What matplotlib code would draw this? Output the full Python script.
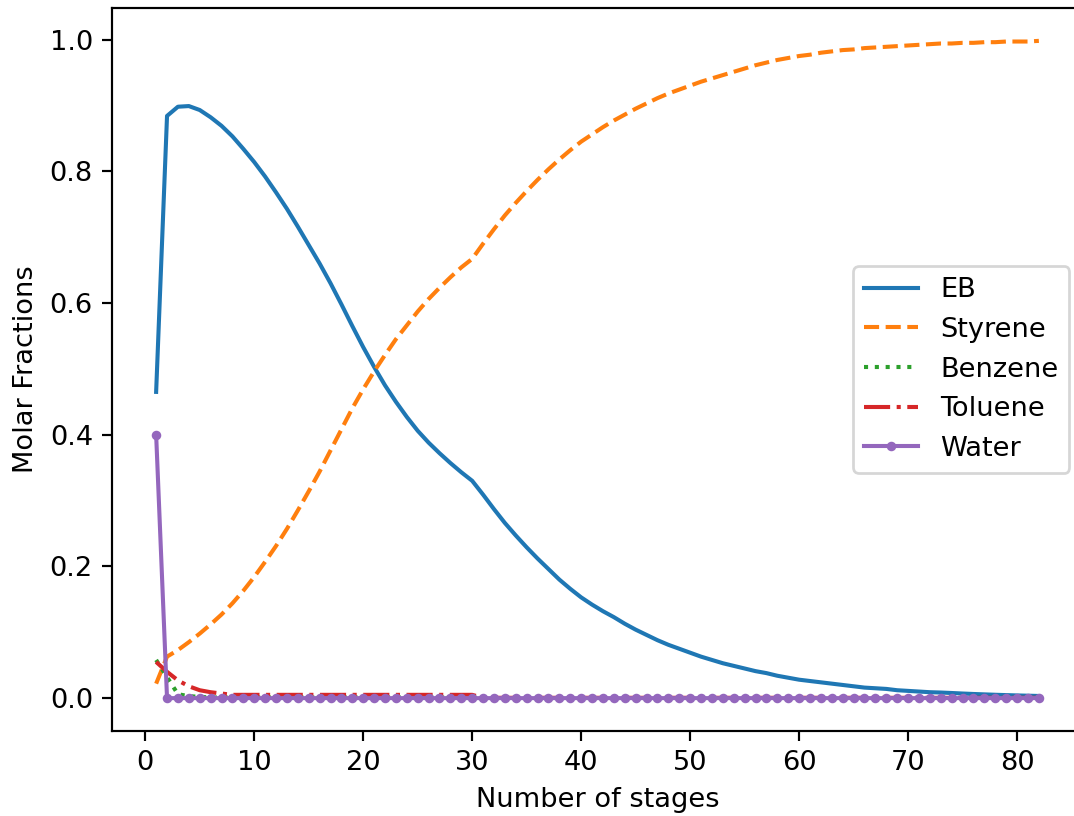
#!/usr/bin/env python3
"""Molar fraction profiles along the column stages."""
import numpy as np
import matplotlib
matplotlib.use("Agg")
import matplotlib.pyplot as plt

stages = list(range(1, 83))

eb = [0.465, 0.884, 0.898, 0.899, 0.893, 0.882, 0.869, 0.853, 0.834, 0.814,
      0.792, 0.768, 0.743, 0.716, 0.688, 0.660, 0.630, 0.598, 0.565, 0.533,
      0.503, 0.475, 0.450, 0.427, 0.406, 0.388, 0.372, 0.357, 0.343, 0.330,
      0.309, 0.287, 0.266, 0.247, 0.229, 0.212, 0.196, 0.180, 0.166, 0.153,
      0.142, 0.132, 0.123, 0.113, 0.104, 0.096, 0.088, 0.081, 0.075, 0.069,
      0.063, 0.058, 0.053, 0.049, 0.045, 0.041, 0.038, 0.034, 0.031, 0.028,
      0.026, 0.024, 0.022, 0.020, 0.018, 0.016, 0.015, 0.014, 0.012, 0.011,
      0.010, 0.009, 0.0085, 0.0078, 0.0070, 0.0063, 0.0057, 0.0051, 0.0046, 0.0041,
      0.0037, 0.0033]

styrene = [0.022, 0.063, 0.073, 0.085, 0.098, 0.112, 0.127, 0.144, 0.163, 0.184,
           0.207, 0.231, 0.257, 0.285, 0.314, 0.344, 0.376, 0.408, 0.440, 0.469,
           0.496, 0.521, 0.545, 0.566, 0.587, 0.606, 0.623, 0.639, 0.654, 0.667,
           0.690, 0.712, 0.733, 0.752, 0.770, 0.787, 0.803, 0.818, 0.832, 0.845,
           0.856, 0.867, 0.877, 0.886, 0.895, 0.903, 0.911, 0.918, 0.924, 0.930,
           0.936, 0.941, 0.946, 0.951, 0.956, 0.961, 0.965, 0.969, 0.972, 0.975,
           0.977, 0.980, 0.982, 0.984, 0.985, 0.987, 0.988, 0.989, 0.990, 0.991,
           0.992, 0.993, 0.994, 0.994, 0.995, 0.995, 0.996, 0.996, 0.997, 0.997,
           0.997, 0.998]

benzene = [0.058, 0.032, 0.006, 0.003, 0.002] + [0.001] * 25 + [0.0] * 52

toluene = [0.055, 0.040, 0.027, 0.018, 0.012, 0.009, 0.007] + [0.005] * 23 + [0.0005] * 52

water = [0.40] + [0.0] * 81

DPI = 196
fig = plt.figure(figsize=(1074 / DPI, 816 / DPI), dpi=DPI)
ax = fig.add_axes([112 / 1074, 85 / 816, 971 / 1074, 723 / 816])

ax.plot(stages, eb, label="EB")
ax.plot(stages, styrene, "--", label="Styrene")
ax.plot(stages, benzene, ":", label="Benzene")
ax.plot(stages, toluene, "-.", label="Toluene")
ax.plot(stages, water, ".-", ms=5, label="Water")

ax.set_xlabel("Number of stages")
ax.set_ylabel("Molar Fractions")
ax.set_xticks(np.arange(0, 90, 10))
ax.legend(loc="center right")

fig.savefig("out.png", dpi=DPI)
